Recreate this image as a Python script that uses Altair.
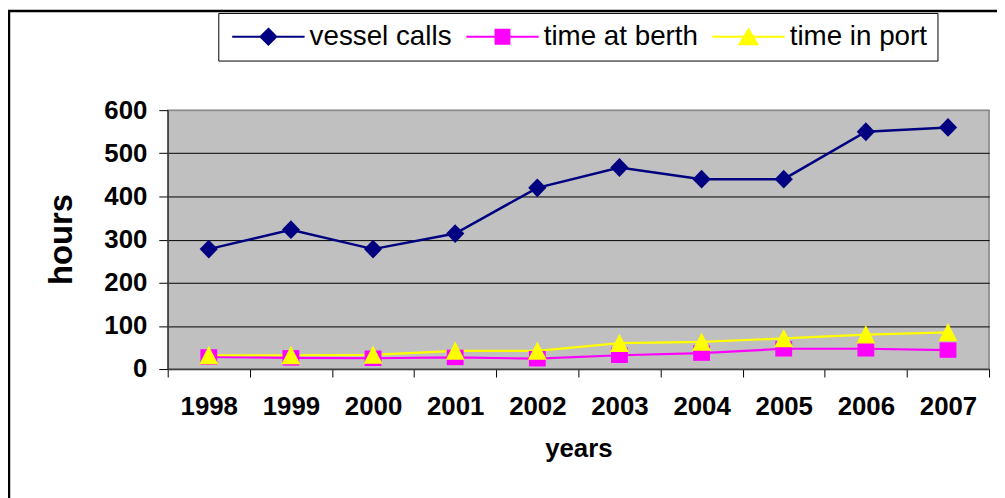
import altair as alt
import pandas as pd

years = ["1998", "1999", "2000", "2001", "2002", "2003", "2004", "2005", "2006", "2007"]
vessel_calls = [278, 323, 278, 314, 420, 467, 440, 440, 550, 560]
time_at_berth = [28, 26, 25, 27, 24, 32, 37, 47, 47, 44]
time_in_port = [32, 32, 33, 42, 42, 60, 63, 71, 80, 85]
series_names = ["vessel calls", "time at berth", "time in port"]
series_colors = ["#000080", "#FF00FF", "#FFFF00"]
series_widths = [2.5, 2.2, 2.2]
y_ticks = [0, 100, 200, 300, 400, 500, 600]

# marker shapes (unit coordinates, scaled by the mark size)
plot_shapes = [
    "M0,-0.95L0.92,0L0,0.95L-0.92,0Z",
    "M-0.85,-0.78H0.85V0.78H-0.85Z",
    "M0,-0.95L0.95,0.9L-0.95,0.9Z",
]
legend_shapes = [
    "M-1,0H6.3M2.65,-0.8L3.45,0L2.65,0.8L1.85,0Z",
    "M-1,0H6.3M1.95,-0.7H3.35V0.7H1.95Z",
    "M-1,0H6.3M2.65,-0.75L3.55,0.75L1.75,0.75Z",
]

rows = []
for name, vals in zip(series_names, [vessel_calls, time_at_berth, time_in_port]):
    for y, v in zip(years, vals):
        rows.append({"year": y, "series": name, "value": v})
df = pd.DataFrame(rows)

FONT = "Liberation Sans"

x_enc = alt.X(
    "year:N",
    sort=years,
    bandPosition=0.5,
    scale=alt.Scale(type="band", paddingInner=0, paddingOuter=0),
    axis=alt.Axis(
        title="years", labelAngle=0, tickBand="extent", tickSize=8,
        tickColor="black", domainColor="#404040", domainWidth=1.5,
        labelFont=FONT, labelFontWeight="bold", labelFontSize=26,
        labelColor="black", labelPadding=17, grid=False,
        titleFont=FONT, titleFontSize=26, titleFontWeight="bold",
        titleColor="black", titleY=88, titleBaseline="alphabetic",
    ),
)
y_enc = alt.Y(
    "value:Q",
    scale=alt.Scale(domain=[0, 600], nice=False),
    axis=alt.Axis(
        title="hours", values=y_ticks, tickSize=9, tickColor="black",
        domainColor="#404040", domainWidth=1.5,
        grid=True, gridWidth=1,
        gridColor={"condition": {"test": "datum.value === 600", "value": "#8a8a8a"}, "value": "black"},
        labelFont=FONT, labelFontWeight="bold", labelFontSize=26,
        labelColor="black", labelPadding=12,
        titleFont=FONT, titleFontSize=33, titleFontWeight="bold",
        titleColor="black", titleX=-107, titleY=130, titleAngle=270,
        titleAlign="center", titleBaseline="middle",
    ),
)
color_scale = alt.Scale(domain=series_names, range=series_colors)

base = alt.Chart(df)

line_layers = []
point_layers = []
for name, col, shp, sw in zip(series_names, series_colors, plot_shapes, series_widths):
    sub = base.transform_filter(alt.datum.series == name)
    line_layers.append(
        sub.mark_line(strokeWidth=sw, color=col).encode(x=x_enc, y=y_enc)
    )
    point_layers.append(
        sub.mark_point(filled=True, size=400, opacity=1, shape=shp, color=col)
        .encode(x=x_enc, y=y_enc)
    )

leg = alt.Legend(
    title=None, orient="none", legendX=51, legendY=-98, direction="horizontal",
    columns=3, symbolSize=400, symbolStrokeWidth=2,
    labelFont=FONT, labelFontSize=28, labelColor="black",
    labelOffset=54, columnPadding=10, padding=10,
    strokeColor="black", fillColor="white",
)

legend_layer = base.transform_filter(alt.datum.value < -1).mark_point(
    filled=True, size=400, strokeWidth=2, opacity=1
).encode(
    x=x_enc, y=y_enc,
    fill=alt.Fill("series:N", scale=color_scale, legend=leg),
    stroke=alt.Stroke("series:N", scale=color_scale, legend=leg),
    shape=alt.Shape("series:N", scale=alt.Scale(domain=series_names, range=legend_shapes), legend=leg),
)

frame_df = pd.DataFrame({"k": [0]})
border_top = alt.Chart(frame_df).mark_rule(color="black", strokeWidth=2.5).encode(
    x=alt.value(-161), x2=alt.value(840), y=alt.value(-100)
)
border_left = alt.Chart(frame_df).mark_rule(color="black", strokeWidth=2.5).encode(
    x=alt.value(-160), y=alt.value(-101), y2=alt.value(392)
)

chart = alt.layer(
    border_top, border_left, *line_layers, *point_layers, legend_layer
).properties(
    width=828, height=261,
    padding={"left": 161, "top": 101, "right": 8, "bottom": 128},
    autosize=alt.AutoSizeParams(type="none"),
    background="white",
).configure_view(
    fill="#C0C0C0", stroke="#808080", strokeWidth=1.5
)

chart.save("out.html", embed_options={"renderer": "svg", "actions": False})
